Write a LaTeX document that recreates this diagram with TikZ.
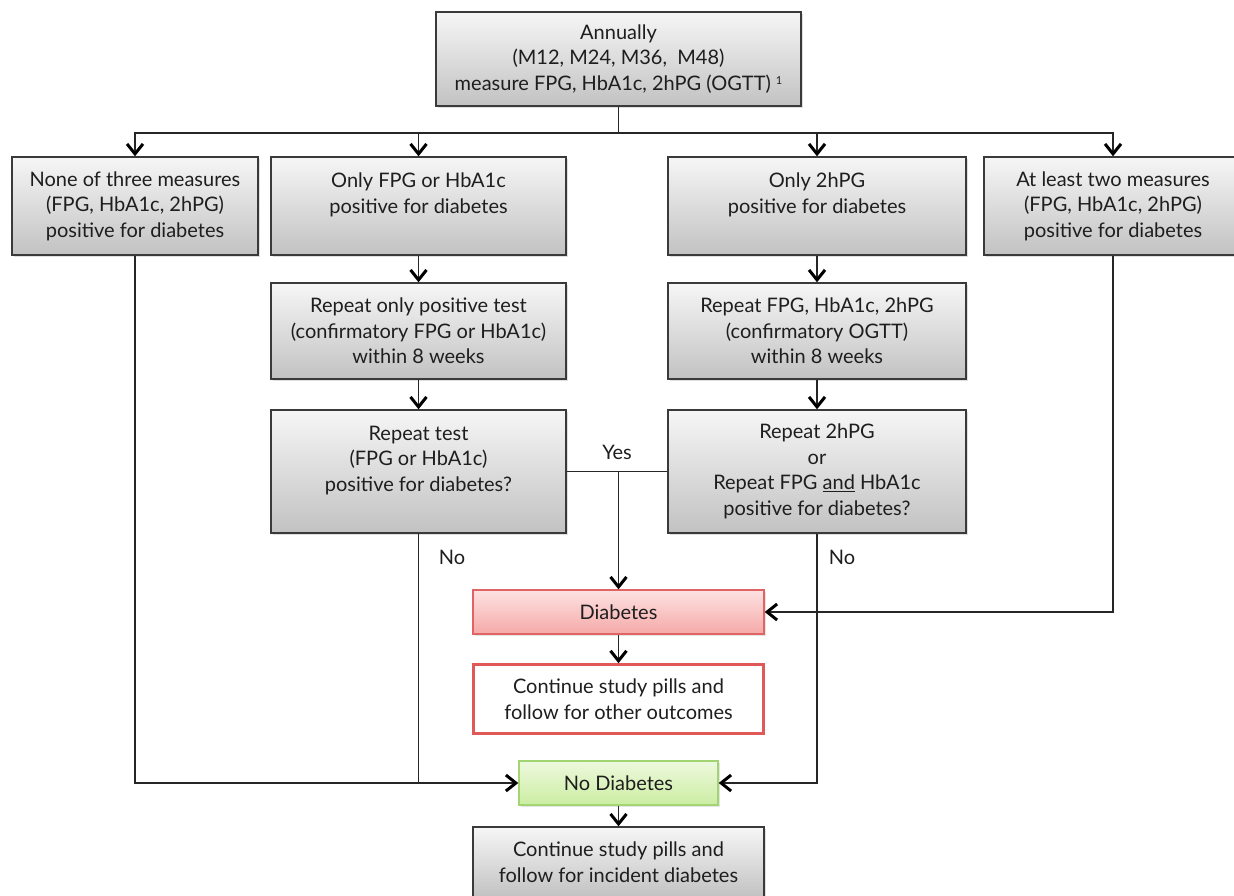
\documentclass[tikz,border=0pt]{standalone}
\usepackage{fontspec}
\setmainfont{Lato}
\usetikzlibrary{arrows.meta,shadows}
\definecolor{boxline}{HTML}{3A3A3A}
\definecolor{graytop}{HTML}{F6F6F6}
\definecolor{graybot}{HTML}{C2C2C2}
\definecolor{pinktop}{HTML}{FDE2E2}
\definecolor{pinkbot}{HTML}{F5A9A8}
\definecolor{pinkline}{HTML}{E06464}
\definecolor{greentop}{HTML}{EEF9DE}
\definecolor{greenbot}{HTML}{CBEDA2}
\definecolor{greenline}{HTML}{A2D472}
\definecolor{redline}{HTML}{E05858}
\definecolor{txt}{HTML}{1E1E1E}
\definecolor{conn}{HTML}{262626}
\tikzset{
  base/.style={rectangle, inner sep=0pt, align=center, text=txt,
    font=\fontsize{20}{25.5}\selectfont},
  graybox/.style={base, draw=boxline, line width=1.4pt, top color=graytop, bottom color=graybot,
    drop shadow={shadow xshift=2pt, shadow yshift=-2pt, opacity=0.25}},
  pinkbox/.style={base, draw=pinkline, line width=1.4pt, top color=pinktop, bottom color=pinkbot,
    drop shadow={shadow xshift=2pt, shadow yshift=-2pt, opacity=0.2}},
  greenbox/.style={base, draw=greenline, line width=1.4pt, top color=greentop, bottom color=greenbot,
    drop shadow={shadow xshift=2pt, shadow yshift=-2pt, opacity=0.2}},
  redbox/.style={base, draw=redline, line width=2.6pt, fill=white},
  conn/.style={draw=conn, line width=1.5pt},
  arr/.style={conn, -{Straight Barb[length=10pt,width=16pt,line width=3pt,color=black]}},
  lbl/.style={font=\fontsize{20}{24}\selectfont, text=txt, inner sep=0pt},
}
\begin{document}
\begin{tikzpicture}[x=1pt,y=-1pt]
\clip (0,0) rectangle (1234,895);
\fill[white] (0,0) rectangle (1234,895);
% nodes
\node[graybox, minimum width=365pt, minimum height=94pt] (top) at (618.5,59)
  {Annually\\(M12, M24, M36,\ \ M48)\\measure FPG, HbA1c, 2hPG (OGTT)\ \raisebox{6pt}{\fontsize{11}{11}\selectfont 1}};
\node[graybox, minimum width=246pt, minimum height=98pt] (A) at (135,206)
  {None of three measures\\(FPG, HbA1c, 2hPG)\\positive for diabetes};
\node[graybox, minimum width=295pt, minimum height=98pt] (B1) at (418.5,206)
  {Only FPG or HbA1c\\positive for diabetes\\\mbox{}};
\node[graybox, minimum width=298pt, minimum height=98pt] (C1) at (817,206)
  {Only 2hPG\\positive for diabetes\\\mbox{}};
\node[graybox, minimum width=258pt, minimum height=98pt] (D) at (1113,206)
  {At least two measures\\(FPG, HbA1c, 2hPG)\\positive for diabetes};
\node[graybox, minimum width=295pt, minimum height=96pt] (B2) at (418.5,331)
  {Repeat only positive test\\(confirmatory FPG or HbA1c)\\within 8 weeks};
\node[graybox, minimum width=298pt, minimum height=96pt] (C2) at (817,331)
  {Repeat FPG, HbA1c, 2hPG\\(confirmatory OGTT)\\within 8 weeks};
\node[graybox, minimum width=295pt, minimum height=123pt] (B3) at (418.5,471.5)
  {Repeat test\\(FPG or HbA1c)\\positive for diabetes?\\\mbox{}};
\node[graybox, minimum width=298pt, minimum height=123pt] (C3) at (817,471.5)
  {Repeat 2hPG\\or\\Repeat FPG \underline{and} HbA1c\\positive for diabetes?};
\node[pinkbox, minimum width=291pt, minimum height=44pt] (Diab) at (618.5,612) {Diabetes};
\node[redbox, minimum width=290pt, minimum height=69pt] (Cont1) at (618.5,699)
  {Continue study pills and\\follow for other outcomes};
\node[greenbox, minimum width=199pt, minimum height=44pt] (NoD) at (618.5,783) {No Diabetes};
\node[graybox, minimum width=291pt, minimum height=70pt] (Cont2) at (618.5,862)
  {Continue study pills and\\follow for incident diabetes};
% labels
\node[lbl] (yes) at (617,452) {Yes};
\node[lbl] (no1) at (452,557) {No};
\node[lbl] (no2) at (842,557) {No};
% connectors
\coordinate (hb) at (618.5,133);
\draw[conn] (top.south) -- (hb);
\draw[arr] (hb) -| (A.north);
\draw[arr] (hb) -| (B1.north);
\draw[arr] (hb) -| (C1.north);
\draw[arr] (hb) -| (D.north);
\draw[arr] (B1) -- (B2);
\draw[arr] (B2) -- (B3);
\draw[arr] (C1) -- (C2);
\draw[arr] (C2) -- (C3);
\draw[conn] (B3.east) -- (C3.west);
\draw[arr] (B3.east -| Diab.north) -- (Diab.north);
\draw[arr] (D.south) |- (Diab.east);
\draw[arr] (Diab) -- (Cont1);
\draw[arr] (A.south) |- (NoD.west);
\draw[conn] (B3.south) -- (B3.south |- NoD.west);
\draw[arr] (C3.south) |- (NoD.east);
\draw[arr] (NoD) -- (Cont2);
\end{tikzpicture}
\end{document}
